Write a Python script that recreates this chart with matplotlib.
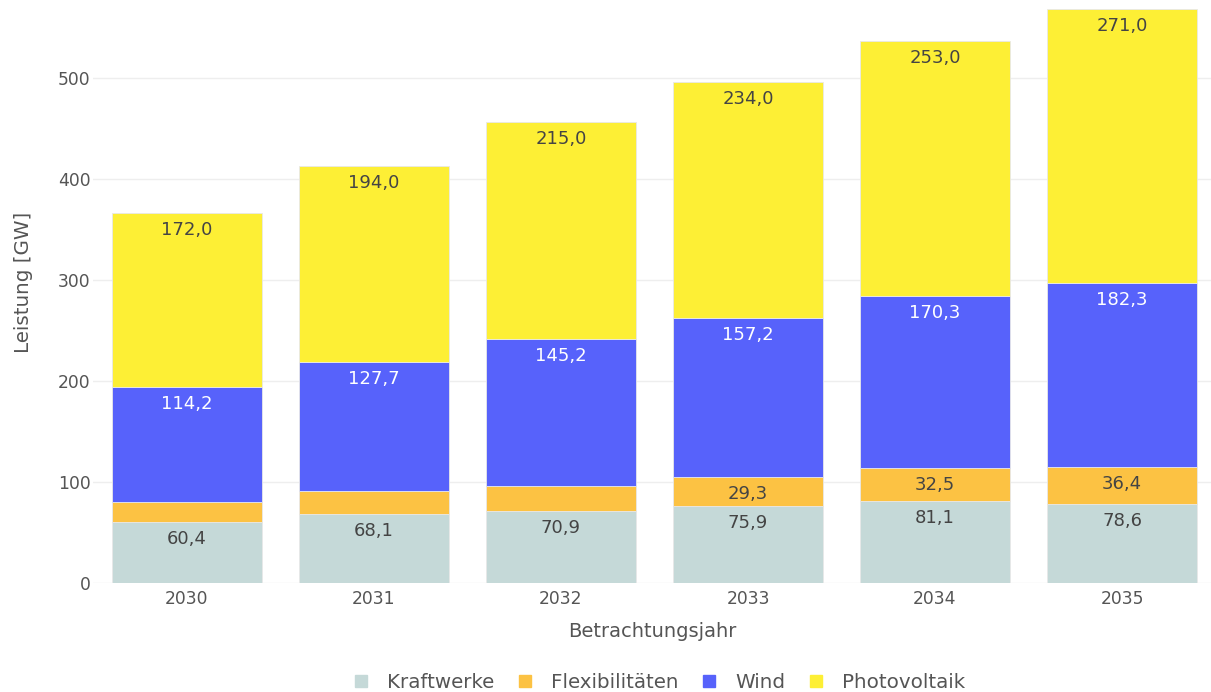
import numpy as np
import matplotlib
matplotlib.use("Agg")
import matplotlib.pyplot as plt
from matplotlib.lines import Line2D

# ---- data (GW) ----
years = ["2030", "2031", "2032", "2033", "2034", "2035"]
kraftwerke = [60.4, 68.1, 70.9, 75.9, 81.1, 78.6]
flex = [19.5, 23.0, 25.5, 29.3, 32.5, 36.4]
wind = [114.2, 127.7, 145.2, 157.2, 170.3, 182.3]
pv = [172.0, 194.0, 215.0, 234.0, 253.0, 271.0]
series_names = ["Kraftwerke", "Flexibilitäten", "Wind", "Photovoltaik"]
show_label = [[True] * 6, [False, False, False, True, True, True], [True] * 6, [True] * 6]

COLS = ["#c5d9d8", "#fcc243", "#5762fb", "#fdef35"]
TXT = ["#444444", "#444444", "#ffffff", "#444444"]
TICK = "#555555"

plt.rcParams["font.family"] = ["DejaVu Sans"]

W, H = 1211, 692
fig = plt.figure(figsize=(W / 100, H / 100), dpi=100)
# plot area: x range [-0.5, 5.5] spans 93.5..1215.5 px (cropped at right), y=0 at px 583
ax = fig.add_axes([93.5 / W, (H - 583) / H, 1 - 93.5 / W, 583 / H])

x = np.arange(len(years))
bottom = np.zeros(len(years))
for vals, col, tcol, name, lab in zip([kraftwerke, flex, wind, pv], COLS, TXT,
                                       series_names, show_label):
    vals = np.array(vals)
    ax.bar(x, vals, 0.8, bottom=bottom, color=col, edgecolor="#e8e8e8",
           linewidth=0.6, zorder=2, label=name)
    top = bottom + vals
    for i in range(len(years)):
        if lab[i]:
            ax.annotate(f"{vals[i]:.1f}".replace(".", ","), (x[i], top[i]),
                        xytext=(0, -17), textcoords="offset pixels",
                        ha="center", va="center", fontsize=13, color=tcol, zorder=3)
    bottom = top

ax.set_xlim(-0.5, 5.5 - 4.5 / 187)
ax.set_ylim(0, 583 / 1.01)
ax.set_xticks(x)
ax.set_xticklabels(years)
ax.set_yticks([0, 100, 200, 300, 400, 500])
ax.tick_params(axis="both", length=0, labelsize=12.3, labelcolor=TICK, pad=5)
ax.tick_params(axis="y", pad=2)
ax.grid(axis="y", color="#eeeeee", lw=1, zorder=0)
ax.set_axisbelow(True)
for s in ax.spines.values():
    s.set_visible(False)

ax.set_xlabel("Betrachtungsjahr", fontsize=14, color=TICK, labelpad=10)
ax.set_ylabel("Leistung [GW]", fontsize=14.3, color=TICK)
ax.yaxis.set_label_coords(-(93.5 - 33) / (W - 93.5), (583 - 282) / 583)

handles = [Line2D([], [], marker="s", ls="", ms=8.6, color=c, label=n)
           for c, n in zip(COLS, series_names)]
fig.legend(handles=handles, loc="center", bbox_to_anchor=(660 / W, 1 - 682 / H),
           ncol=4, frameon=False, fontsize=14.3, labelcolor=TICK,
           handlelength=0.6, handletextpad=1.0, columnspacing=1.25)

fig.savefig("out.png", dpi=100)
